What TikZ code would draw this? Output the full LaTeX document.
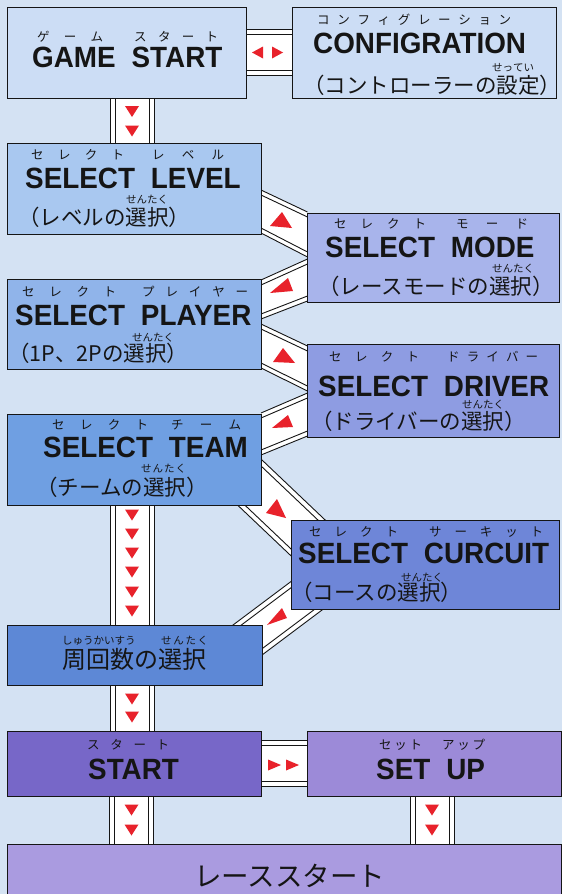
\documentclass[tikz,border=0pt]{standalone}
\usepackage{fontspec}
\setmainfont{Liberation Sans}
\newfontfamily\tfont[FakeStretch=0.95]{Liberation Sans}
\newfontfamily\jfont{Noto Sans CJK JP}
\pgfdeclarelayer{back}
\pgfdeclarelayer{bands}
\pgfsetlayers{back,bands,main}

\definecolor{bgc}{HTML}{D4E2F3}
\definecolor{ink}{HTML}{151515}
\definecolor{arrowred}{HTML}{E8222B}
\definecolor{cGS}{HTML}{CCDDF5}
\definecolor{cLV}{HTML}{A9C8F0}
\definecolor{cMD}{HTML}{A8B4EB}
\definecolor{cPL}{HTML}{90B4EA}
\definecolor{cDR}{HTML}{8E9CE2}
\definecolor{cTM}{HTML}{6F9FE2}
\definecolor{cCC}{HTML}{6E86D8}
\definecolor{cLP}{HTML}{5D88D6}
\definecolor{cST}{HTML}{7767C8}
\definecolor{cSU}{HTML}{9C8AD8}
\definecolor{cRS}{HTML}{AA9BE0}

\def\spr#1{\sprX#1\relax}
\def\sprX#1{\ifx\relax#1\else#1\expandafter\sprY\fi}
\def\sprY#1{\ifx\relax#1\else\hfill#1\expandafter\sprY\fi}
\newcommand\wg{\hspace{16pt}}

\tikzset{
  box/.style={draw=ink, line width=0.9pt, inner sep=0pt, outer sep=0pt, anchor=north west},
  rail/.style={draw=ink, line width=0.9pt},
  arr/.style={fill=arrowred},
  ttl/.style={inner sep=0pt, anchor=base west, text=ink, text depth=0pt, font=\tfont\bfseries\fontsize{29.3}{30}\selectfont},
  sub/.style={inner sep=0pt, anchor=base west, text=ink, text height=17pt, text depth=3pt, font=\jfont\fontsize{21.5}{22}\selectfont},
  rbk/.style={inner sep=0pt, anchor=base west, text=ink, text height=9.5pt, text depth=0pt, font=\jfont\fontsize{12.5}{13}\selectfont},
  rbh/.style={inner sep=0pt, anchor=base west, text=ink, text height=8pt, text depth=0pt, font=\jfont\fontsize{10.5}{11}\selectfont},
}

% box: name, colour, x1, y1, x2, y2
\newcommand\bx[6]{\node[box, fill=#2, minimum width={#5-#3}, minimum height={#6-#4}] (#1) at (#3,#4) {};}
% ruby: style, name, xleft, xright, baseline, chars
\newcommand\rbx[6]{\node[#1] (#2) at (#3,#5) {\makebox[\dimexpr #4pt-#3pt\relax][s]{\spr{#6}}};}
% vertical band: left x, from node, to node, arrow y list
\newcommand\vband[4]{%
  \fill[white] (#1,0 |- #2.south) rectangle (#1+44,0 |- #3.north);
  \foreach \d in {0,5,39,44}{\draw[rail] (#1+\d,0 |- #2.south) -- (#1+\d,0 |- #3.north);}
  \foreach \yy in {#4}{\fill[arr] (#1+15,\yy-5.5) -- (#1+29,\yy-5.5) -- (#1+22,\yy+5.5) -- cycle;}
}
% horizontal band: from node, to node, top y
\newcommand\hband[3]{%
  \fill[white] (#1.east |- 0,#3) rectangle (#2.west |- 0,#3+46);
  \foreach \d in {0,5,41,46}{\draw[rail] (#1.east |- 0,#3+\d) -- (#2.west |- 0,#3+\d);}
}
% diagonal band between left column (x=261) and right column (x=307.5)
\newcommand\dband[4]{%
  \fill[white] (261,#1) -- (307.5,#2) -- (307.5,#4) -- (261,#3) -- cycle;
  \draw[rail] (261,#1) -- (307.5,#2);
  \draw[rail] (261,#1+5) -- (307.5,#2+5);
  \draw[rail] (261,#3-5) -- (307.5,#4-5);
  \draw[rail] (261,#3) -- (307.5,#4);
}

\begin{document}
\begin{tikzpicture}[x=1pt,y=-1pt]
\useasboundingbox (0,0) rectangle (562,894);
\begin{pgfonlayer}{back}
  \fill[bgc] (0,0) rectangle (562,894);
\end{pgfonlayer}

% ---------- boxes ----------
\bx{gs}{cGS}{7}{7}{246}{98}
\bx{cf}{cGS}{292}{7}{556}{98}
\bx{lv}{cLV}{7}{143}{261}{234}
\bx{md}{cMD}{307.5}{213}{559}{302}
\bx{pl}{cPL}{7}{279}{261}{369}
\bx{dr}{cDR}{307.5}{344}{559}{437}
\bx{tm}{cTM}{7}{414}{261}{505}
\bx{cc}{cCC}{291}{520}{559}{609}
\bx{lp}{cLP}{7}{625}{262}{685}
\bx{st}{cST}{7}{731}{261}{796}
\bx{su}{cSU}{307}{731}{561}{796}
\bx{rs}{cRS}{7}{844}{561}{905}

% ---------- connectors ----------
\begin{pgfonlayer}{bands}
  \hband{gs}{cf}{29}
  \fill[arr] (263,46.5) -- (263,58.5) -- (252,52.5) -- cycle;
  \fill[arr] (272,46.5) -- (272,58.5) -- (283,52.5) -- cycle;

  \vband{110}{gs}{lv}{111.5,131}
  \vband{110}{tm}{lp}{515,534,553,572,592,611}
  \vband{110}{lp}{st}{699,717}
  \vband{109.5}{st}{rs}{810,830}
  \vband{410}{su}{rs}{810,830}

  \hband{st}{su}{740.5}
  \fill[arr] (268,759.5) -- (268,770.5) -- (281,765) -- cycle;
  \fill[arr] (286,759.5) -- (286,770.5) -- (299,765) -- cycle;

  \dband{190}{212}{233}{257}
  \dband{280}{259}{319}{301}
  \dband{324}{346}{368}{391}
  \dband{413}{393}{455}{436}

  % select team -> select curcuit
  \fill[white] (250,448.6) -- (330,524.6) -- (300,564.35) -- (228,496) -- cycle;
  \draw[rail] (250,448.6) -- (330,524.6);
  \draw[rail] (250,455.5) -- (330,531.5);
  \draw[rail] (228,489.1) -- (300,557.45);
  \draw[rail] (228,496) -- (300,564.35);
  % laps -> select curcuit
  \fill[white] (225,631) -- (300,574.75) -- (330,604) -- (255,660.25) -- cycle;
  \draw[rail] (225,631) -- (300,574.75);
  \draw[rail] (225,637.25) -- (300,581);
  \draw[rail] (255,654) -- (330,597.75);
  \draw[rail] (255,660.25) -- (330,604);

  % band arrows
  \fill[arr] (270,226) -- (292,228) -- (282,212) -- cycle;
  \fill[arr] (270,293) -- (293,291) -- (288,278) -- cycle;
  \fill[arr] (273,362) -- (295,363) -- (283,348) -- cycle;
  \fill[arr] (272,428) -- (293,427) -- (288,415) -- cycle;
  \fill[arr] (266,513) -- (277,499) -- (286,518) -- cycle;
  \fill[arr] (267,625) -- (282,608) -- (287,618) -- cycle;
\end{pgfonlayer}

% ---------- titles ----------
\node[ttl] (tgs) at (32,67) {GAME\wg START};
\node[ttl] (tcf) at (313,53) {CONFIGRATION};
\node[ttl] (tlv) at (25,188) {SELECT\wg LEVEL};
\node[ttl] (tmd) at (325,257) {SELECT\wg MODE};
\node[ttl] (tpl) at (15,325) {SELECT\wg PLAYER};
\node[ttl] (tdr) at (318,396) {SELECT\wg DRIVER};
\node[ttl] (ttm) at (43,457) {SELECT\wg TEAM};
\node[ttl] (tcc) at (298,563) {SELECT\wg CURCUIT};
\node[ttl] (tst) at (88,779) {START};
\node[ttl] (tsu) at (376,779) {SET\wg UP};

% ---------- japanese lines ----------
\node[sub] (scf) at (303,93.5) {（コントローラーの設定）};
\node[sub] (slv) at (18,225.5) {（レベルの選択）};
\node[sub] (smd) at (318,294.5) {（レースモードの選択）};
\node[sub] (spl) at (8,361.5) {（1P、2Pの選択）};
\node[sub] (sdr) at (311,429) {（ドライバーの選択）};
\node[sub] (stm) at (36,495.5) {（チームの選択）};
\node[sub] (scc) at (291,600.5) {（コースの選択）};
\node[sub, text height=19pt, font=\jfont\fontsize{24}{24}\selectfont] (slp) at (62,668.5) {周回数の選択};
\node[sub, text height=22pt, font=\jfont\fontsize{27.5}{28}\selectfont] (srs) at (194,886.5) {レーススタート};

% ---------- ruby ----------
\rbx{rbk}{r1}{37}{103}{41}{ゲーム}
\rbx{rbk}{r2}{134}{218}{41}{スタート}
\rbx{rbk}{r3}{317}{511}{24}{コンフィグレーション}
\rbx{rbh}{r4}{492}{529}{71.5}{せってい}
\rbx{rbk}{r5}{31}{124}{159}{セレクト}
\rbx{rbk}{r6}{152}{224}{159}{レベル}
\rbx{rbh}{r7}{126}{168}{203.5}{せんたく}
\rbx{rbk}{r8}{334}{426}{228}{セレクト}
\rbx{rbk}{r9}{456}{528}{228}{モード}
\rbx{rbh}{r10}{492}{528}{272.5}{せんたく}
\rbx{rbk}{r11}{22}{116}{296}{セレクト}
\rbx{rbk}{r12}{142}{248}{296}{プレイヤー}
\rbx{rbh}{r13}{132}{174}{341.5}{せんたく}
\rbx{rbk}{r14}{329}{419}{361.5}{セレクト}
\rbx{rbk}{r15}{447}{538}{361.5}{ドライバー}
\rbx{rbh}{r16}{462}{501}{408.5}{せんたく}
\rbx{rbk}{r17}{52}{148}{429}{セレクト}
\rbx{rbk}{r18}{171}{241}{429}{チーム}
\rbx{rbh}{r19}{141}{186}{472.5}{せんたく}
\rbx{rbk}{r20}{309}{398}{536}{セレクト}
\rbx{rbk}{r21}{429}{543}{536}{サーキット}
\rbx{rbh}{r22}{401}{443}{581.5}{せんたく}
\rbx{rbh}{r23}{62}{134}{644.5}{しゅうかいすう}
\rbx{rbh}{r24}{161}{208}{644.5}{せんたく}
\rbx{rbk}{r25}{87}{169}{749}{スタート}
\rbx{rbk}{r26}{379}{422}{749}{セット}
\rbx{rbk}{r27}{442}{485}{749}{アップ}
\end{tikzpicture}
\end{document}
